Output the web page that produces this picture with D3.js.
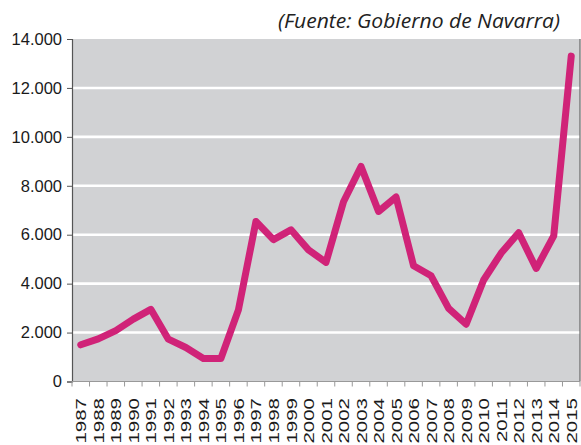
<!DOCTYPE html>
<html>
<head>
<meta charset="utf-8">
<script src="https://cdn.jsdelivr.net/npm/d3@7"></script>
<style>
  body { margin: 0; background: #fff; }
  svg { display: block; }
</style>
</head>
<body>
<div class="chart"></div>
<script>
// data
const years = ["1987","1988","1989","1990","1991","1992","1993","1994","1995","1996",
	"1997","1998","1999","2000","2001","2002","2003","2004","2005","2006",
	"2007","2008","2009","2010","2011","2012","2013","2014","2015"];
const values = [1500, 1740, 2080, 2550, 2950, 1730, 1390, 940, 940, 2930,
	6540, 5800, 6200, 5380, 4870, 7350, 8790, 6950, 7540, 4730,
	4320, 2990, 2340, 4150, 5250, 6080, 4620, 5950, 13300];
const yTicks = [0, 2000, 4000, 6000, 8000, 10000, 12000, 14000];
const source = "(Fuente: Gobierno de Navarra)";

let outWidth = 581, outHeight = 445;
let plot = {left: 72, right: 580, top: 39, bottom: 381.5};

const svg = d3.select('.chart').append('svg')
	.attr("width", outWidth)
	.attr("height", outHeight);

let xScale = d3.scaleBand()
	.domain(years)
	.range([plot.left, plot.right]);
let yScale = d3.scaleLinear()
	.domain([0, 14000])
	.range([plot.bottom, plot.top]);

// grey plot area
svg.append("rect")
	.attr("x", plot.left)
	.attr("y", plot.top)
	.attr("width", plot.right - plot.left)
	.attr("height", plot.bottom - plot.top)
	.attr("fill", "#d1d2d4");

// white gridlines
svg.append("g")
	.selectAll("line")
	.data(yTicks.filter(d => d > 0 && d < 14000))
	.enter().append("line")
	.attr("x1", plot.left)
	.attr("x2", plot.right)
	.attr("y1", d => yScale(d))
	.attr("y2", d => yScale(d))
	.attr("stroke", "#fff")
	.attr("stroke-width", 2.6);

// right border
svg.append("line")
	.attr("x1", plot.right).attr("x2", plot.right)
	.attr("y1", plot.top).attr("y2", plot.bottom)
	.attr("stroke", "#666").attr("stroke-width", 1.2);

// y axis
const yAxis = d3.axisLeft(yScale)
	.tickValues(yTicks)
	.tickSize(5)
	.tickPadding(5)
	.tickFormat(d => d3.format(",")(d).replace(/,/g, "."));
const gy = svg.append("g")
	.attr("transform", `translate(${plot.left},0)`)
	.call(yAxis);
gy.select(".domain").attr("stroke", "#555").attr("stroke-width", 1.2);
gy.selectAll(".tick line").attr("stroke", "#555");
gy.selectAll("text")
	.attr("fill", "#1a1a1a")
	.style("font-family", "'Liberation Sans', Arial, sans-serif")
	.style("font-size", "16.5px");

// x axis: ticks at the band edges
const gx = svg.append("g");
gx.append("line")
	.attr("x1", plot.left).attr("x2", plot.right)
	.attr("y1", plot.bottom).attr("y2", plot.bottom)
	.attr("stroke", "#999").attr("stroke-width", 1);
gx.selectAll(".xtick")
	.data(years.concat(["end"]))
	.enter().append("line")
	.attr("class", "xtick")
	.attr("x1", d => d == "end" ? plot.right : xScale(d))
	.attr("x2", d => d == "end" ? plot.right : xScale(d))
	.attr("y1", plot.bottom)
	.attr("y2", plot.bottom + 5)
	.attr("stroke", "#999");
gx.selectAll(".xlabel")
	.data(years)
	.enter().append("text")
	.attr("class", "xlabel")
	.attr("transform", d => `translate(${xScale(d) + xScale.bandwidth() / 2},398) rotate(-90) scale(1.33,1)`)
	.attr("text-anchor", "end")
	.attr("dy", "0.36em")
	.attr("fill", "#1a1a1a")
	.style("font-family", "'Liberation Sans', Arial, sans-serif")
	.style("font-size", "15.4px")
	.text(d => d);

// the line
const line = d3.line()
	.x((d, i) => xScale(years[i]) + xScale.bandwidth() / 2)
	.y(d => yScale(d));
svg.append("path")
	.datum(values)
	.attr("d", line)
	.attr("fill", "none")
	.attr("stroke", "#d02378")
	.attr("stroke-width", 7)
	.attr("stroke-linejoin", "round")
	.attr("stroke-linecap", "round");

// source note
svg.append("text")
	.attr("x", 560)
	.attr("y", 28)
	.attr("text-anchor", "end")
	.attr("fill", "#222")
	.attr("textLength", 282)
	.attr("lengthAdjust", "spacingAndGlyphs")
	.style("font-family", "'Open Sans', sans-serif")
	.style("font-style", "italic")
	.style("font-size", "19.5px")
	.text(source);
</script>
</body>
</html>
